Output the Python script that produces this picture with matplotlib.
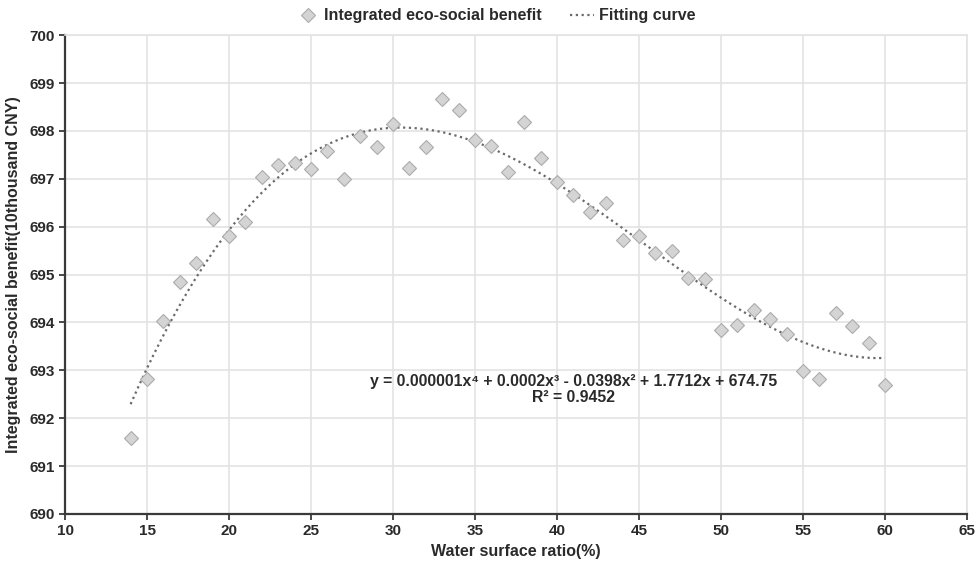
import matplotlib
matplotlib.use('Agg')
import matplotlib.pyplot as plt
import numpy as np

plt.rcParams['font.family'] = ['Liberation Sans', 'DejaVu Sans']
plt.rcParams['font.weight'] = 'bold'

# water surface ratio (%) and integrated eco-social benefit (10 thousand CNY)
ratio = list(range(14, 61))
benefit = [691.59, 692.82, 694.04, 694.84, 695.25, 696.17, 695.81, 696.10, 697.03, 697.29,
           697.34, 697.20, 697.58, 697.00, 697.90, 697.67, 698.14, 697.23, 697.66, 698.66,
           698.44, 697.80, 697.68, 697.15, 698.18, 697.43, 696.93, 696.66, 696.30, 696.49,
           695.72, 695.80, 695.46, 695.49, 694.93, 694.90, 693.84, 693.94, 694.25, 694.07,
           693.76, 692.99, 692.82, 694.20, 693.92, 693.58, 692.70]

eq_text = "y = 0.000001x\u2074 + 0.0002x\u00b3 - 0.0398x\u00b2 + 1.7712x + 674.75\nR\u00b2 = 0.9452"

fig = plt.figure(figsize=(9.79, 5.67), dpi=100)
ax = fig.add_axes([0.0664, 0.0935, 0.9213, 0.8445])

# 4th order polynomial trend line
coef = np.polyfit(ratio, benefit, 4)
xs = np.linspace(min(ratio), max(ratio), 300)
ax.plot(xs, np.polyval(coef, xs), color='#6a6a6a', linestyle=(0, (1, 1.6)), linewidth=1.6,
        label='Fitting curve', zorder=2)

ax.plot(ratio, benefit, linestyle='none', marker='D', markersize=7.6,
        markerfacecolor='#d4d4d4', markeredgecolor='#ababab', markeredgewidth=0.8,
        label='Integrated eco-social benefit', zorder=3)

ax.set_xlim(10, 65)
ax.set_ylim(690, 700)
ax.set_xticks(range(10, 66, 5))
ax.set_yticks(range(690, 701))
ax.grid(True, color='#e3e3e3', linewidth=1.2)
ax.set_axisbelow(True)

for s in ['top', 'right']:
    ax.spines[s].set_color('#e3e3e3')
    ax.spines[s].set_linewidth(1.2)
for s in ['left', 'bottom']:
    ax.spines[s].set_color('#3a3a3a')
    ax.spines[s].set_linewidth(1.6)

ax.tick_params(axis='both', labelsize=11, colors='#2a2a2a', length=4, width=1.2)
for lab in ax.get_xticklabels() + ax.get_yticklabels():
    lab.set_fontweight('bold')

ax.set_xlabel('Water surface ratio(%)', fontsize=11.5, fontweight='bold', color='#2a2a2a', labelpad=4)
ax.set_ylabel('Integrated eco-social benefit(10thousand CNY)', fontsize=11.5, fontweight='bold',
              color='#2a2a2a', labelpad=6)

ax.text(41.0, 692.6, eq_text, ha='center', va='center', fontsize=11.3, fontweight='bold',
        color='#2a2a2a', linespacing=1.05)

handles, labels = ax.get_legend_handles_labels()
fig.legend(handles[::-1], labels[::-1], loc='center', bbox_to_anchor=(0.506, 0.972), ncol=2,
           frameon=False, handlelength=1.5, columnspacing=1.75, handletextpad=0.3,
           labelcolor='#2a2a2a', prop={'weight': 'bold', 'size': 11.5})

fig.savefig('out.png', dpi=100)
